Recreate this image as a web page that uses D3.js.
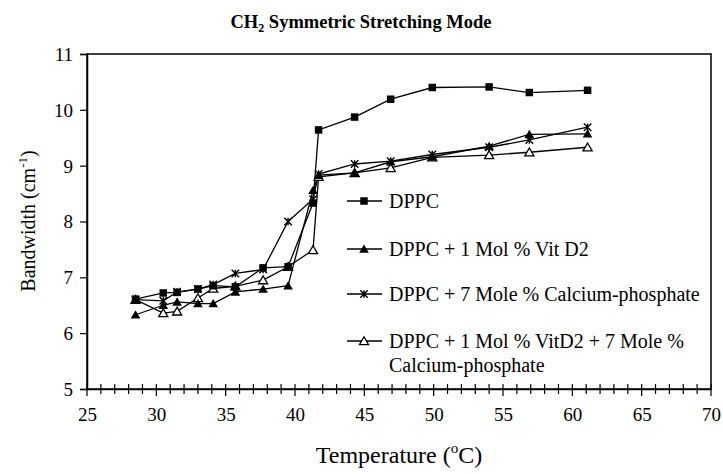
<!DOCTYPE html>
<html>
<head>
<meta charset="utf-8">
<script src="https://cdn.jsdelivr.net/npm/d3@7/dist/d3.min.js"></script>
<style>
  html, body { margin: 0; padding: 0; background: #fff; }
  svg { display: block; }
  svg text { font-family: "Liberation Serif", serif !important; fill: #000; }
</style>
</head>
<body>
<svg id="chart" width="723" height="474"></svg>
<script>
// ---- data ----
const temperatures = [28.5, 30.5, 31.5, 33.0, 34.1, 35.7, 37.7, 39.5, 41.3, 41.7, 44.3, 46.9, 49.9, 54.0, 56.9, 61.1];
const dppc        = [6.61, 6.72, 6.73, 6.79, 6.85, 6.83, 7.17, 7.19, 8.33, 9.64, 9.87, 10.19, 10.40, 10.41, 10.31, 10.35];
const dppcVitD2   = [6.33, 6.50, 6.56, 6.53, 6.53, 6.74, 6.79, 6.85, 8.56, 8.83, 8.87, 9.07, 9.16, 9.35, 9.56, 9.57];
const dppcCaP     = [6.60, 6.58, 6.74, 6.79, 6.87, 7.07, 7.14, 8.00, 8.40, 8.85, 9.03, 9.08, 9.20, 9.33, 9.46, 9.69];
const dppcVitCaP  = [6.60, 6.36, 6.39, 6.63, 6.80, 6.84, 6.95, 7.19, 7.49, 8.80, 8.87, 8.96, 9.15, 9.19, 9.24, 9.33];
const seriesNames = ["DPPC", "DPPC + 1 Mol % Vit D2", "DPPC + 7 Mole % Calcium-phosphate", "DPPC + 1 Mol % VitD2 + 7 Mole %|Calcium-phosphate"];
const yTicks = [5, 6, 7, 8, 9, 10, 11];
const xTicks = [25, 30, 35, 40, 45, 50, 55, 60, 65, 70];

const series = [
  { name: seriesNames[0], values: dppc, marker: "square" },
  { name: seriesNames[1], values: dppcVitD2, marker: "triFilled" },
  { name: seriesNames[2], values: dppcCaP, marker: "star" },
  { name: seriesNames[3], values: dppcVitCaP, marker: "triOpen" }
];

const FONT = '"Liberation Serif", serif';

// ---- layout ----
const svg = d3.select("#chart");
const L = 87, R = 711, T = 54, B = 389;
const x = d3.scaleLinear().domain([25, 70]).range([L, R]);
const y = d3.scaleLinear().domain([5, 11]).range([B, T]);

// frame
svg.append("rect").attr("x", L).attr("y", T).attr("width", R - L).attr("height", B - T)
  .attr("fill", "none").attr("stroke", "#000").attr("stroke-width", 1.5);

// y axis
const yAxis = d3.axisLeft(y).tickValues(yTicks).tickSize(7).tickPadding(7).tickFormat(d3.format("d"));
const gy = svg.append("g").attr("transform", `translate(${L},0)`).call(yAxis).attr("font-family", FONT);
gy.select(".domain").attr("stroke-width", 1.5);
gy.selectAll(".tick line").attr("stroke-width", 1.2);
gy.selectAll(".tick text").style("font-family", FONT).style("font-size", "19px").attr("dy", "0.34em");

// x axis minor ticks (every 1 degree, crossing the axis)
const minor = d3.range(25, 71, 1);
svg.append("g").selectAll("line").data(minor).join("line")
  .attr("x1", d => x(d)).attr("x2", d => x(d))
  .attr("y1", B - 5).attr("y2", d => (d % 5 === 0) ? B + 7 : B + 5)
  .attr("stroke", "#000").attr("stroke-width", 1.2);

const xAxis = d3.axisBottom(x).tickValues(xTicks).tickSize(0).tickPadding(19).tickFormat(d3.format("d"));
const gx = svg.append("g").attr("transform", `translate(0,${B})`).call(xAxis).attr("font-family", FONT);
gx.select(".domain").attr("stroke-width", 1.5);
gx.selectAll(".tick text").style("font-family", FONT).style("font-size", "19px");

// markers
const starType = {
  draw(ctx, size) {
    const r = Math.sqrt(size) / 2;
    ctx.moveTo(0, -r); ctx.lineTo(0, r);
    ctx.moveTo(-r, -r); ctx.lineTo(r, r);
    ctx.moveTo(-r, r); ctx.lineTo(r, -r);
  }
};
function drawMarker(g, kind, cx, cy) {
  if (kind === "square") {
    g.append("path").attr("d", d3.symbol(d3.symbolSquare, 56)())
      .attr("transform", `translate(${cx},${cy})`).attr("fill", "#000");
  } else if (kind === "triFilled") {
    g.append("path").attr("d", d3.symbol(d3.symbolTriangle, 40)())
      .attr("transform", `translate(${cx},${cy + 1})`).attr("fill", "#000");
  } else if (kind === "triOpen") {
    g.append("path").attr("d", d3.symbol(d3.symbolTriangle, 36)())
      .attr("transform", `translate(${cx},${cy + 1})`).attr("fill", "#fff").attr("stroke", "#000").attr("stroke-width", 1.3);
  } else if (kind === "star") {
    g.append("path").attr("d", d3.symbol(starType, 56)())
      .attr("transform", `translate(${cx},${cy})`).attr("fill", "none").attr("stroke", "#000").attr("stroke-width", 1.4);
  }
}

const line = d3.line().x(d => x(d[0])).y(d => y(d[1]));
series.forEach(s => {
  const pts = temperatures.map((t, i) => [t, s.values[i]]);
  svg.append("path").attr("d", line(pts)).attr("fill", "none").attr("stroke", "#000").attr("stroke-width", 1.3);
});
// draw markers (reverse so DPPC on top)
[...series].reverse().forEach(s => {
  const g = svg.append("g");
  temperatures.forEach((t, i) => drawMarker(g, s.marker, x(t), y(s.values[i])));
});

// legend
const legendY = [201, 249, 294, 341];
series.forEach((s, i) => {
  const ly = legendY[i];
  svg.append("line").attr("x1", 347).attr("x2", 382).attr("y1", ly).attr("y2", ly)
    .attr("stroke", "#000").attr("stroke-width", 1.3);
  drawMarker(svg, s.marker, 364, ly);
  const parts = s.name.split("|");
  const t = svg.append("text").attr("x", 389).attr("y", ly + 7).style("font-family", FONT).style("font-size", "20px");
  parts.forEach((p, j) => {
    t.append("tspan").attr("x", 389).attr("dy", j === 0 ? 0 : 24).text(p);
  });
});

// title
const title = svg.append("text").attr("x", 361).attr("y", 28).attr("text-anchor", "middle")
  .style("font-family", FONT).style("font-size", "18.5px").attr("font-weight", "bold");
title.append("tspan").text("CH");
title.append("tspan").text("2").style("font-size", "12px").attr("dy", 4);
title.append("tspan").text(" Symmetric Stretching Mode").attr("dy", -4);

// y label
const yl = svg.append("text").attr("transform", "translate(35,221) rotate(-90)").attr("text-anchor", "middle")
  .style("font-family", FONT).style("font-size", "20px");
yl.append("tspan").text("Bandwidth (cm");
yl.append("tspan").text("-1").style("font-size", "13px").attr("dy", -8);
yl.append("tspan").text(")").attr("dy", 8);

// x label
const xl = svg.append("text").attr("x", 399).attr("y", 463).attr("text-anchor", "middle")
  .style("font-family", FONT).style("font-size", "24px");
xl.append("tspan").text("Temperature (");
xl.append("tspan").text("o").style("font-size", "15px").attr("dy", -10);
xl.append("tspan").text("C)").attr("dy", 10);
</script>
</body>
</html>
